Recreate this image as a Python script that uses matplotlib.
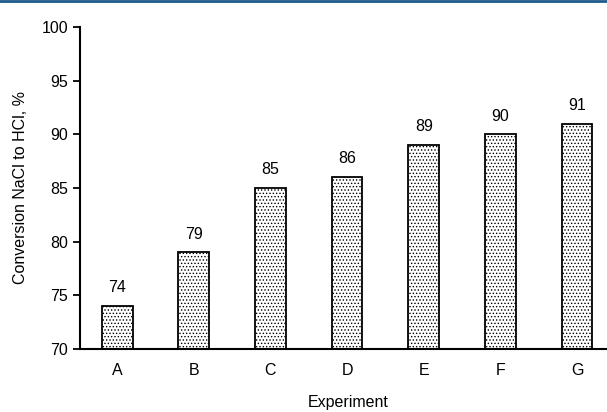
import matplotlib
matplotlib.use("Agg")
import matplotlib.pyplot as plt
from matplotlib.lines import Line2D

experiments = ["A", "B", "C", "D", "E", "F", "G"]
conversion = [74, 79, 85, 86, 89, 90, 91]

plt.rcParams['font.family'] = ['Liberation Sans', 'DejaVu Sans']
plt.rcParams['hatch.linewidth'] = 0.6

fig = plt.figure(figsize=(6.07, 4.12), dpi=100)
# right end of the axis runs a little past the figure edge, like the original
ax = fig.add_axes([0.1318, 0.153, 0.882, 0.7816])
ax.spines["bottom"].set_clip_on(False)

x = range(len(experiments))
bars = ax.bar(x, conversion, width=0.40, bottom=0, color="white",
              edgecolor="black", linewidth=1.3, hatch=".....")
for xi, v in zip(x, conversion):
    ax.text(xi, v + 1.0, str(v), ha="center", va="bottom", fontsize=11.5)

ax.set_xlim(-0.485, len(experiments) - 0.5)
ax.set_ylim(70, 100)
ax.set_yticks(range(70, 101, 5))
ax.set_xticks(list(x))
ax.set_xticklabels(experiments)
ax.tick_params(axis="x", length=0, labelsize=11.5, pad=10)
ax.tick_params(axis="y", length=5, width=1.3, labelsize=11.5, direction="out")
for s in ["top", "right"]:
    ax.spines[s].set_visible(False)
for s in ["left", "bottom"]:
    ax.spines[s].set_linewidth(1.5)

ax.set_xlabel("Experiment", fontsize=11.5, labelpad=12)
ax.set_ylabel("Conversion NaCl to HCl, %", fontsize=11.5, labelpad=10)

fig.add_artist(Line2D([0, 1], [0.997, 0.997], color="#1f5a8c", linewidth=2,
                      transform=fig.transFigure))

fig.savefig("out.png", dpi=100)
